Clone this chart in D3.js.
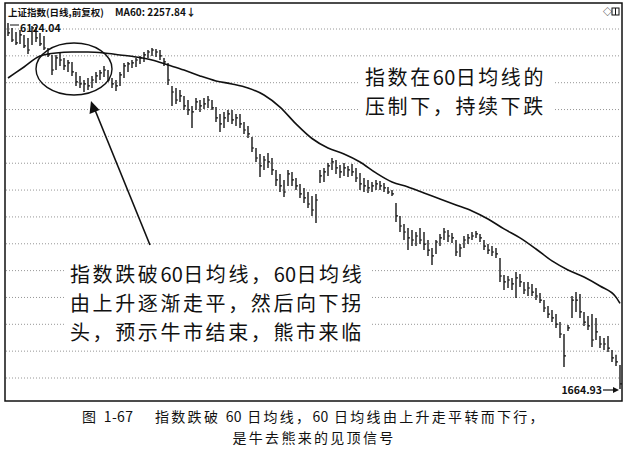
<!DOCTYPE html>
<html>
<head>
<meta charset="utf-8">
<script src="https://cdn.jsdelivr.net/npm/d3@7"></script>
<style>
  body { margin: 0; background: #fff; }
  text { font-family: "Noto Sans CJK SC", "Noto Sans", sans-serif; fill: #111; }
</style>
</head>
<body>
<svg id="chart" width="627" height="453"></svg>
<script>
/* daily bars of the index (price levels) */
const highs = [
  6124.04, 6017, 5932, 5974, 5870, 5807, 6060, 6039, 5911, 5849,
  5603, 5466, 5466, 5505, 5408, 5369, 5331, 5145, 5073, 5000,
  5036, 5073, 5145, 5181, 5256, 5181, 5036, 5000, 5145, 5313,
  5331, 5369, 5408, 5446, 5524, 5563, 5603, 5583, 5563, 5408,
  5313, 4895, 4860, 4825, 4724, 4656, 4559, 4690, 4656, 4690,
  4724, 4656, 4542, 4431, 4463, 4494, 4494, 4431, 4431, 4307,
  4246, 4083, 3925, 3843, 3815, 3856, 3788, 3630, 3579, 3503,
  3630, 3605, 3528, 3454, 3405, 3356, 3309, 3333, 3630, 3656,
  3722, 3788, 3761, 3696, 3722, 3683, 3709, 3656, 3592, 3528,
  3503, 3478, 3503, 3490, 3466, 3417, 3380, 3228, 3082, 2996,
  2953, 2932, 2911, 2953, 2911, 2829, 2750, 2829, 2891, 2953,
  2932, 2901, 2829, 2789, 2870, 2891, 2911, 2922, 2891, 2829,
  2789, 2769, 2750, 2654, 2498, 2489, 2472, 2525, 2507, 2437,
  2437, 2420, 2385, 2343, 2285, 2237, 2205, 2174, 2113, 2025,
  2091, 2318, 2351, 2334, 2190, 2159, 2174, 2144, 2011, 1997,
  2011, 1913, 1880, 1814
];
const lows = [
  5849, 5725, 5664, 5684, 5603, 5485, 5664, 5725, 5644, 5563,
  5427, 5091, 5181, 5256, 5181, 5145, 5073, 4895, 4860, 4791,
  4825, 4860, 4948, 5000, 5054, 4965, 4860, 4808, 4895, 5036,
  5145, 5219, 5237, 5294, 5331, 5408, 5446, 5427, 5369, 5256,
  4913, 4559, 4591, 4624, 4494, 4416, 4215, 4494, 4463, 4510,
  4526, 4494, 4307, 4156, 4215, 4307, 4276, 4246, 4215, 4127,
  4068, 3870, 3735, 3541, 3630, 3656, 3567, 3429, 3356, 3297,
  3429, 3429, 3380, 3286, 3228, 3171, 3082, 3006, 3466, 3478,
  3554, 3630, 3579, 3528, 3554, 3541, 3554, 3478, 3380, 3356,
  3344, 3356, 3380, 3380, 3356, 3333, 3309, 3017, 2911, 2829,
  2730, 2769, 2769, 2789, 2730, 2673, 2589, 2692, 2769, 2829,
  2809, 2799, 2673, 2664, 2750, 2789, 2829, 2850, 2809, 2730,
  2692, 2673, 2654, 2437, 2368, 2385, 2368, 2301, 2394, 2334,
  2318, 2318, 2285, 2261, 2190, 2144, 2113, 2069, 1997, 1801,
  2047, 2144, 2190, 2144, 2084, 2054, 1933, 1982, 1926, 1913,
  1900, 1833, 1807, 1664.93
];
const closes = [
  5911, 5765, 5704, 5870, 5644, 5563, 6017, 5807, 5684, 5603,
  5466, 5181, 5408, 5369, 5256, 5313, 5145, 4965, 4930, 4930,
  4895, 5000, 5073, 5127, 5181, 5000, 4930, 4895, 5091, 5256,
  5294, 5313, 5369, 5408, 5466, 5524, 5563, 5524, 5446, 5331,
  5000, 4791, 4656, 4724, 4559, 4494, 4463, 4624, 4559, 4591,
  4656, 4526, 4369, 4276, 4369, 4431, 4337, 4369, 4276, 4185,
  4127, 3925, 3788, 3683, 3761, 3735, 3630, 3503, 3429, 3356,
  3579, 3503, 3429, 3333, 3286, 3216, 3148, 3262, 3554, 3605,
  3683, 3735, 3656, 3605, 3656, 3630, 3605, 3528, 3454, 3429,
  3405, 3429, 3454, 3429, 3405, 3356, 3333, 3082, 2974, 2911,
  2850, 2829, 2870, 2829, 2789, 2730, 2673, 2809, 2850, 2911,
  2870, 2850, 2711, 2750, 2829, 2850, 2870, 2891, 2850, 2769,
  2730, 2711, 2692, 2489, 2437, 2454, 2420, 2472, 2437, 2368,
  2385, 2351, 2318, 2285, 2221, 2174, 2144, 2098, 2025, 1873,
  2069, 2285, 2285, 2190, 2113, 2084, 1982, 2040, 1954, 1954,
  1926, 1860, 1833, 1695
];

/* 60-day moving average, sampled at bar positions */
const maIdx = [0, 4, 8, 12, 16, 20, 24, 28, 32, 36, 40, 44, 48, 52, 56, 60, 64, 68, 72, 76,
  80, 84, 88, 92, 96, 100, 104, 108, 112, 116, 120, 124, 128, 132, 136, 140, 144, 148, 152, 153];
const maVals = [5036, 5237, 5446, 5505, 5524, 5524, 5505, 5466, 5427, 5369, 5275, 5181, 5073, 4983, 4930, 4860, 4740, 4540, 4276, 4060,
  3925, 3843, 3735, 3592, 3478, 3417, 3344, 3274, 3205, 3137, 3049, 2943, 2850, 2740, 2626, 2543, 2481, 2402, 2309, 2257.84];

const maxLabel = '6124.04';
const minLabel = '1664.93';
const gridRows = [0, 1, 2, 3, 4, 5, 6, 7, 8, 9, 10, 11, 12, 13];

const svg = d3.select('#chart');

/* scales */
const x = d3.scaleLinear().domain([0, highs.length - 1]).range([8, 620]);
const y = d3.scaleLog().domain([1664.93, 6124.04]).range([389, 23]);
const gy = d3.scaleLinear().domain([0, 13]).range([29, 378]);

/* grid */
svg.append('g')
  .selectAll('line')
  .data(gridRows)
  .enter()
  .append('line')
  .attr('x1', 6).attr('x2', 621)
  .attr('y1', d => gy(d)).attr('y2', d => gy(d))
  .attr('stroke', '#8a8a8a')
  .attr('stroke-width', 0.9)
  .attr('stroke-dasharray', '1,2');

/* white boxes behind the notes cut the grid */
svg.append('rect').attr('x', 358).attr('y', 60).attr('width', 197).attr('height', 62).attr('fill', '#fff');
svg.append('rect').attr('x', 66).attr('y', 256).attr('width', 306).attr('height', 88).attr('fill', '#fff');

/* price bars */
const bars = svg.append('g').attr('stroke', '#151515');
bars.selectAll('line.hl')
  .data(highs)
  .enter()
  .append('line')
  .attr('class', 'hl')
  .attr('x1', (d, i) => x(i)).attr('x2', (d, i) => x(i))
  .attr('y1', d => y(d)).attr('y2', (d, i) => y(lows[i]))
  .attr('stroke-width', 1.4);
bars.selectAll('line.cl')
  .data(closes)
  .enter()
  .append('line')
  .attr('class', 'cl')
  .attr('x1', (d, i) => x(i)).attr('x2', (d, i) => x(i) + 2)
  .attr('y1', d => y(d)).attr('y2', d => y(d))
  .attr('stroke-width', 1.2);

/* MA60 */
const maLine = d3.line()
  .x(d => x(d[0]))
  .y(d => y(d[1]))
  .curve(d3.curveMonotoneX);
svg.append('path')
  .datum(maIdx.map((d, i) => [d, maVals[i]]))
  .attr('d', maLine)
  .attr('fill', 'none')
  .attr('stroke', '#111')
  .attr('stroke-width', 1.6);

/* frame */
svg.append('rect')
  .attr('x', 5).attr('y', 3).attr('width', 617).attr('height', 398)
  .attr('fill', 'none').attr('stroke', '#111').attr('stroke-width', 1.5);

/* header */
svg.append('text').attr('x', 8).attr('y', 16)
  .attr('font-size', 9.5).attr('font-weight', 'bold')
  .text('上证指数(日线,前复权)');
svg.append('text').attr('x', 115).attr('y', 16)
  .attr('font-size', 10).attr('font-weight', 'bold')
  .text('MA60: ' + maVals[maVals.length - 1] + '↓');
svg.append('text').attr('x', 603).attr('y', 15).attr('font-size', 9).text('◇');
svg.append('rect').attr('x', 612).attr('y', 8).attr('width', 7).attr('height', 7)
  .attr('fill', 'none').attr('stroke', '#111').attr('stroke-width', 1);
svg.append('line').attr('x1', 615.5).attr('x2', 615.5).attr('y1', 8).attr('y2', 15)
  .attr('stroke', '#111').attr('stroke-width', 1);

/* max / min markers */
svg.append('line')
  .attr('x1', x(0) + 2).attr('x2', 19)
  .attr('y1', y(highs[0]) + 2).attr('y2', y(highs[0]) + 2)
  .attr('stroke', '#111').attr('stroke-width', 1);
svg.append('text').attr('x', 20).attr('y', 32)
  .attr('font-size', 10.5).attr('font-weight', 'bold')
  .text(maxLabel);
const last = lows.length - 1;
svg.append('text').attr('x', 602).attr('y', 394)
  .attr('text-anchor', 'end')
  .attr('font-size', 10.5).attr('font-weight', 'bold')
  .text(minLabel);
svg.append('line')
  .attr('x1', 603).attr('x2', x(last) - 4)
  .attr('y1', 390).attr('y2', 390)
  .attr('stroke', '#111').attr('stroke-width', 1.2);
svg.append('path')
  .attr('d', `M${x(last) - 1},390 L${x(last) - 7},387 L${x(last) - 7},393 Z`)
  .attr('fill', '#111');

/* ellipse and arrow */
svg.append('ellipse')
  .attr('cx', 74).attr('cy', 69).attr('rx', 38).attr('ry', 26)
  .attr('fill', 'none').attr('stroke', '#111').attr('stroke-width', 1.4);
svg.append('line')
  .attr('x1', 150).attr('y1', 245).attr('x2', 95).attr('y2', 110)
  .attr('stroke', '#111').attr('stroke-width', 1.6);
svg.append('path')
  .attr('d', 'M91,101 L89.5,114 L99.5,110 Z')
  .attr('fill', '#111');

/* text with spaced CJK but tight digit runs */
function spacedText(sel, spacing) {
  sel.each(function (d) {
    const t = d3.select(this);
    const parts = d.match(/[0-9\-]+|[^0-9\-]+/g);
    parts.forEach(p => {
      t.append('tspan')
        .attr('letter-spacing', /^[0-9\-]+$/.test(p) ? 0.3 : spacing)
        .text(p);
    });
  });
}

/* notes */
const noteR = ['指数在60日均线的', '压制下，持续下跌'];
svg.append('g').selectAll('text')
  .data(noteR).enter().append('text')
  .attr('x', 365).attr('y', (d, i) => 85 + i * 29)
  .attr('font-size', 20)
  .call(spacedText, 2.6);

const noteL = ['指数跌破60日均线，60日均线', '由上升逐渐走平，然后向下拐', '头，预示牛市结束，熊市来临'];
svg.append('g').selectAll('text')
  .data(noteL).enter().append('text')
  .attr('x', 70).attr('y', (d, i) => 282 + i * 29)
  .attr('font-size', 20)
  .call(spacedText, 2.6);

/* caption */
const caption = ['图 1-67    指数跌破 60 日均线，60 日均线由上升走平转而下行，', '是牛去熊来的见顶信号'];
svg.append('g').selectAll('text')
  .data(caption).enter().append('text')
  .attr('x', 314).attr('y', (d, i) => 422 + i * 20.6)
  .attr('text-anchor', 'middle')
  .attr('font-size', 14)
  .style('white-space', 'pre')
  .call(spacedText, 2.3);
</script>
</body>
</html>
